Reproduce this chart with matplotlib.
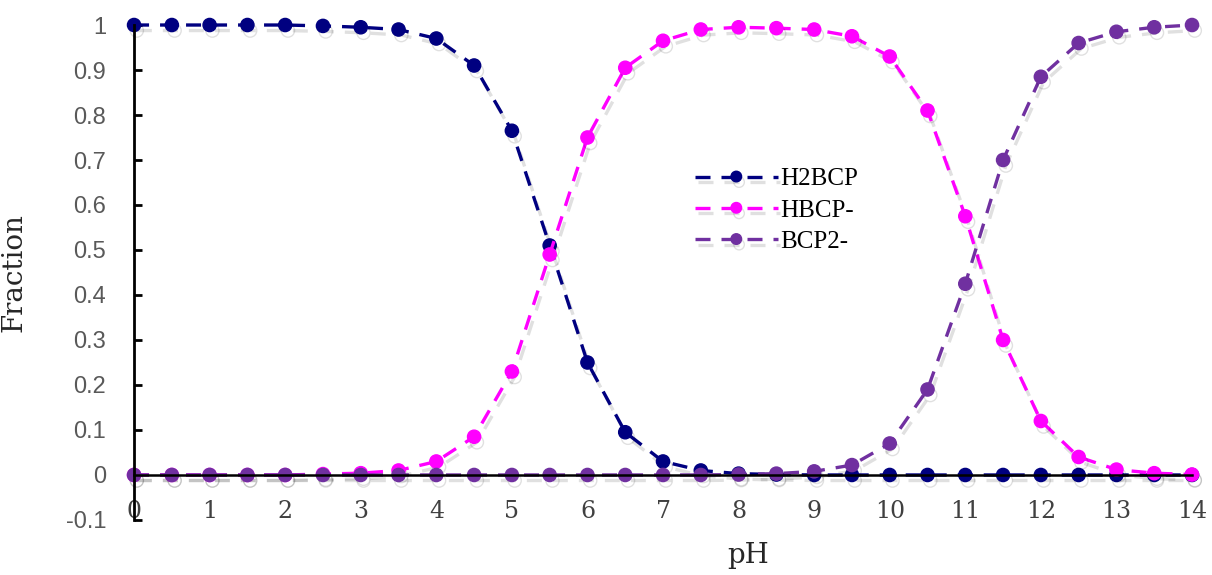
import matplotlib
matplotlib.use("Agg")
import matplotlib.pyplot as plt
import matplotlib.patheffects as pe

ph = [0, 0.5, 1, 1.5, 2, 2.5, 3, 3.5, 4, 4.5, 5, 5.5, 6, 6.5, 7, 7.5, 8, 8.5, 9,
      9.5, 10, 10.5, 11, 11.5, 12, 12.5, 13, 13.5, 14]

h2bcp = [1.0, 1.0, 1.0, 1.0, 1.0, 0.998, 0.995, 0.99, 0.97, 0.91, 0.765, 0.51, 0.25,
         0.095, 0.03, 0.01, 0.003, 0.001, 0.0, 0.0, 0.0, 0.0, 0.0, 0.0, 0.0, 0.0,
         0.0, 0.0, 0.0]
hbcp = [0.0, 0.0, 0.0, 0.0, 0.0, 0.002, 0.004, 0.01, 0.03, 0.085, 0.23, 0.49, 0.75,
        0.905, 0.965, 0.99, 0.995, 0.993, 0.99, 0.975, 0.93, 0.81, 0.575, 0.30,
        0.12, 0.04, 0.012, 0.004, 0.001]
bcp2 = [0.0, 0.0, 0.0, 0.0, 0.0, 0.0, 0.0, 0.0, 0.0, 0.0, 0.0, 0.0, 0.0, 0.0, 0.0,
        0.0, 0.001, 0.003, 0.008, 0.022, 0.07, 0.19, 0.425, 0.70, 0.885, 0.96,
        0.985, 0.995, 1.0]

series = [("H2BCP", h2bcp, "#000080"),
          ("HBCP-", hbcp, "#FF00FF"),
          ("BCP2-", bcp2, "#7030A0")]

fig = plt.figure(figsize=(12.12, 5.75), dpi=100)
ax = fig.add_axes([0.1106, 0.0957, 0.8729, 0.8608])

shadow = [pe.SimpleLineShadow(offset=(2, -4), shadow_color="black", alpha=0.12, rho=1),
          pe.Normal()]

for name, vals, col in series:
    ax.plot(ph, vals, color=col, lw=2.4, ls=(0, (4.5, 3.3)), marker="o", ms=9.5,
            label=name, path_effects=shadow, clip_on=False)

ax.set_xlim(0, 14)
ax.set_ylim(-0.1, 1)
ax.set_xticks(range(0, 15))
ax.set_yticks([-0.1, 0, 0.1, 0.2, 0.3, 0.4, 0.5, 0.6, 0.7, 0.8, 0.9, 1])
ax.set_yticklabels(["-0.1", "0", "0.1", "0.2", "0.3", "0.4", "0.5", "0.6", "0.7",
                    "0.8", "0.9", "1"])

ax.spines["bottom"].set_position(("data", 0))
ax.spines["top"].set_visible(False)
ax.spines["right"].set_visible(False)
ax.spines["left"].set_linewidth(2)
ax.spines["bottom"].set_linewidth(1.8)

ax.tick_params(axis="y", direction="in", length=6, width=2, pad=20,
               labelsize=17, labelcolor="#595959")
ax.tick_params(axis="x", direction="in", length=4, width=2, pad=18,
               labelsize=17, labelcolor="#404040")
for t in ax.get_yticklabels():
    t.set_family("Liberation Sans")
for t in ax.get_xticklabels():
    t.set_family("DejaVu Serif")

ax.set_ylabel("Fraction", fontsize=20, family="DejaVu Serif", color="#262626")
ax.yaxis.set_label_coords(-0.101, 0.5)
ax.set_xlabel("pH", fontsize=20, family="DejaVu Serif", color="#262626")
ax.xaxis.set_label_coords(0.58, -0.045)

leg = ax.legend(loc="upper left", bbox_to_anchor=(0.509, 0.757), frameon=False,
                handlelength=3.3, handletextpad=0.1, labelspacing=0.35,
                markerscale=0.8, prop={"family": "Liberation Serif", "size": 18})

fig.savefig("out.png", dpi=100)
